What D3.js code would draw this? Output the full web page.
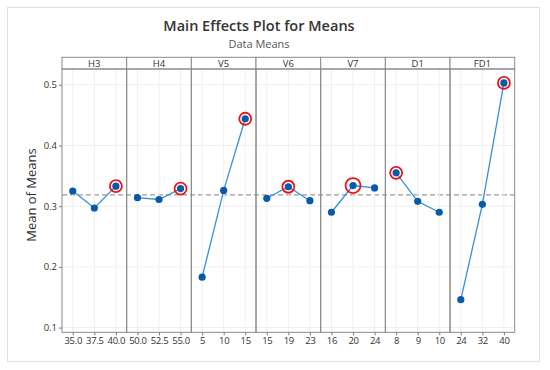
<!DOCTYPE html>
<html>
<head>
<meta charset="utf-8">
<script src="https://cdn.jsdelivr.net/npm/d3@7"></script>
<style>
  body { margin: 0; background: #fff; }
  svg { font-family: "Open Sans", "Noto Sans", sans-serif; }
  .tick text { fill: #333; font-family: "Open Sans", sans-serif; }
</style>
</head>
<body>
<div id="chart"></div>
<script>
var factors = ["H3", "H4", "V5", "V6", "V7", "D1", "FD1"];
var levels = [
  ["35.0", "37.5", "40.0"],
  ["50.0", "52.5", "55.0"],
  ["5", "10", "15"],
  ["15", "19", "23"],
  ["16", "20", "24"],
  ["8", "9", "10"],
  ["24", "32", "40"]
];
var means = [
  [0.325, 0.297, 0.333],
  [0.314, 0.311, 0.329],
  [0.183, 0.326, 0.444],
  [0.313, 0.332, 0.309],
  [0.290, 0.334, 0.330],
  [0.355, 0.308, 0.290],
  [0.146, 0.303, 0.503]
];
// index of the circled (best) level in each factor
var best = [2, 2, 2, 1, 1, 0, 2];
var grandMean = 0.3185;
var yTicks = [0.1, 0.2, 0.3, 0.4, 0.5];

var width = 550, height = 370;
var plotLeft = 62, plotRight = 514.7, stripTop = 57.3, plotTop = 69, plotBottom = 332.3;

var svg = d3.select("#chart").append("svg")
  .attr("width", width)
  .attr("height", height);

// outer frame
svg.append("rect")
  .attr("x", 7.5).attr("y", 7.5)
  .attr("width", 532).attr("height", 354)
  .attr("fill", "#fff")
  .attr("stroke", "#dedede");

svg.append("text")
  .attr("x", 259).attr("y", 31)
  .attr("text-anchor", "middle")
  .attr("font-size", 14.5)
  .attr("font-weight", 600)
  .attr("fill", "#333")
  .text("Main Effects Plot for Means");

svg.append("text")
  .attr("x", 259).attr("y", 47.5)
  .attr("text-anchor", "middle")
  .attr("font-size", 11)
  .attr("fill", "#555")
  .text("Data Means");

svg.append("text")
  .attr("transform", "translate(36,195) rotate(-90)")
  .attr("text-anchor", "middle")
  .attr("font-size", 13)
  .attr("fill", "#333")
  .text("Mean of Means");

var panel = d3.scaleBand().domain(factors).range([plotLeft, plotRight]).padding(0);
var y = d3.scaleLinear().domain([0.0922, 0.526]).range([plotBottom, plotTop]);

// horizontal grid
svg.append("g")
  .selectAll("line")
  .data(yTicks)
  .enter().append("line")
  .attr("x1", plotLeft).attr("x2", plotRight)
  .attr("y1", d => y(d)).attr("y2", d => y(d))
  .attr("stroke", "#efefef");

var yAxis = d3.axisLeft(y).tickValues(yTicks).tickFormat(d3.format(".1f")).tickSize(3).tickPadding(2);
svg.append("g")
  .attr("transform", "translate(" + plotLeft + ",0)")
  .call(yAxis)
  .call(g => g.select(".domain").remove())
  .call(g => g.selectAll(".tick line").attr("stroke", "#777"))
  .call(g => g.selectAll("text").attr("font-size", 9.5));

// grand mean reference line
svg.append("line")
  .attr("x1", plotLeft).attr("x2", plotRight)
  .attr("y1", y(grandMean)).attr("y2", y(grandMean))
  .attr("stroke", "#9a9a9a")
  .attr("stroke-width", 1.2)
  .attr("stroke-dasharray", "5,3");

var line = d3.line();

factors.forEach(function (f, i) {
  var x0 = panel(f);
  var bw = panel.bandwidth();
  var x = d3.scalePoint().domain(levels[i]).range([0, bw]).padding(0.5);
  var g = svg.append("g").attr("transform", "translate(" + x0 + ",0)");

  // vertical grid
  g.selectAll(".vgrid")
    .data(levels[i])
    .enter().append("line")
    .attr("class", "vgrid")
    .attr("x1", d => x(d)).attr("x2", d => x(d))
    .attr("y1", plotTop).attr("y2", plotBottom)
    .attr("stroke", "#efefef");

  var xAxis = d3.axisBottom(x).tickSize(3).tickPadding(2);
  g.append("g")
    .attr("transform", "translate(0," + plotBottom + ")")
    .call(xAxis)
    .call(a => a.select(".domain").remove())
    .call(a => a.selectAll(".tick line").attr("stroke", "#777"))
    .call(a => a.selectAll("text").attr("font-size", 9.5).attr("letter-spacing", -0.3));

  var pts = levels[i].map((l, j) => [x(l), y(means[i][j])]);

  g.append("path")
    .attr("d", line(pts))
    .attr("fill", "none")
    .attr("stroke", "#3590d8")
    .attr("stroke-width", 1.3);

  g.selectAll(".dot")
    .data(pts)
    .enter().append("circle")
    .attr("class", "dot")
    .attr("cx", d => d[0]).attr("cy", d => d[1])
    .attr("r", 3.6)
    .attr("fill", "#0a58a8");

  g.append("circle")
    .attr("cx", pts[best[i]][0]).attr("cy", pts[best[i]][1])
    .attr("r", f == "V7" ? 7.5 : 6)
    .attr("fill", "none")
    .attr("stroke", "#e8141c")
    .attr("stroke-width", 1.8);

  // strip header
  g.append("rect")
    .attr("x", 0).attr("y", stripTop)
    .attr("width", bw).attr("height", plotTop - stripTop)
    .attr("fill", "#fff")
    .attr("stroke", "#8a8a8a");

  g.append("text")
    .attr("x", bw / 2).attr("y", plotTop - 2)
    .attr("text-anchor", "middle")
    .attr("font-size", 9.5)
    .attr("fill", "#333")
    .text(f);

  g.append("rect")
    .attr("x", 0).attr("y", plotTop)
    .attr("width", bw).attr("height", plotBottom - plotTop)
    .attr("fill", "none")
    .attr("stroke", "#8a8a8a");
});
</script>
</body>
</html>
